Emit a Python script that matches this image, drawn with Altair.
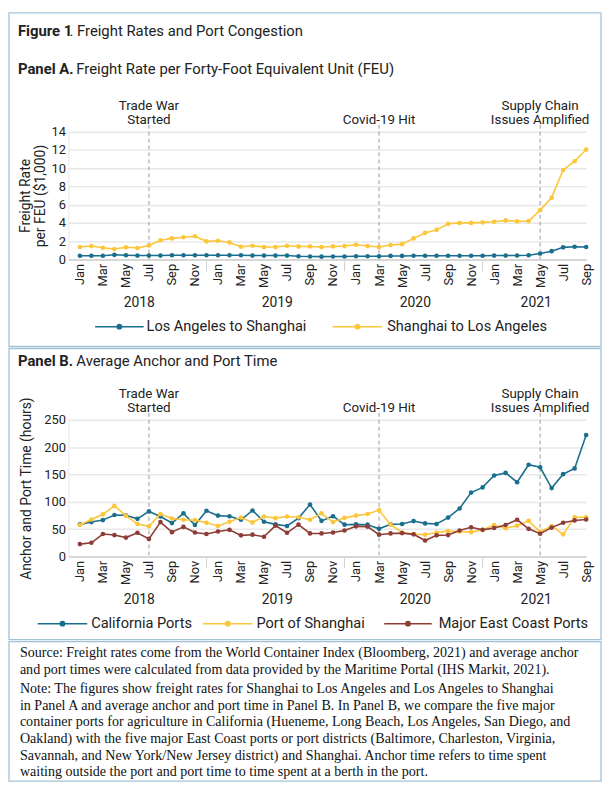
import altair as alt
import pandas as pd

MONTHS = ["Jan", "Feb", "Mar", "Apr", "May", "Jun", "Jul", "Aug", "Sep", "Oct", "Nov", "Dec"]
YEARS = ["2018", "2019", "2020", "2021"]
N = 45  # Jan 2018 .. Sep 2021

# Panel A: freight rate per FEU ($1,000)
LA_TO_SH = [0.40, 0.40, 0.40, 0.50, 0.45, 0.42, 0.42, 0.42, 0.45, 0.45, 0.45, 0.45,
            0.45, 0.45, 0.45, 0.42, 0.42, 0.42, 0.42, 0.35, 0.32, 0.30, 0.32, 0.32,
            0.34, 0.34, 0.35, 0.38, 0.38, 0.40, 0.40, 0.40, 0.40, 0.40, 0.40, 0.40,
            0.42, 0.42, 0.43, 0.45, 0.64, 0.90, 1.32, 1.39, 1.36]
SH_TO_LA = [1.36, 1.47, 1.27, 1.14, 1.33, 1.25, 1.53, 2.10, 2.30, 2.43, 2.54, 1.98,
            2.04, 1.86, 1.39, 1.50, 1.35, 1.35, 1.50, 1.42, 1.42, 1.35, 1.42, 1.46,
            1.60, 1.46, 1.35, 1.57, 1.67, 2.30, 2.90, 3.24, 3.90, 4.00, 4.00, 4.06,
            4.13, 4.27, 4.17, 4.20, 5.40, 6.77, 9.80, 10.76, 12.04]

# Panel B: average anchor and port time (hours)
CA_PORTS = [58.6, 62.8, 66.4, 75.8, 75.2, 68.7, 82.3, 72.9, 61.0, 78.8, 57.5, 83.5,
            74.6, 73.5, 67.0, 84.0, 63.4, 58.6, 55.7, 70.0, 94.8, 65.0, 73.5, 58.0,
            58.6, 58.0, 50.4, 58.6, 59.2, 64.6, 60.4, 59.2, 71.0, 87.7, 116.7, 126.2,
            148.0, 152.8, 135.7, 167.7, 163.0, 125.0, 150.5, 161.0, 222.0]
SH_PORT = [57.5, 67.5, 77.0, 92.4, 74.6, 59.2, 55.0, 77.6, 69.3, 67.0, 66.4, 61.6,
           55.7, 63.4, 71.0, 62.2, 72.9, 70.0, 72.9, 71.7, 67.0, 78.8, 62.8, 70.5,
           74.6, 77.6, 84.7, 58.0, 43.8, 40.9, 39.7, 43.8, 46.2, 45.6, 44.4, 48.6,
           57.5, 51.5, 56.3, 65.0, 45.0, 55.7, 40.3, 71.7, 71.7]
EAST_PORTS = [22.5, 24.9, 40.9, 39.0, 34.4, 43.2, 32.0, 62.8, 44.4, 54.0, 43.8, 40.9,
              45.6, 48.6, 38.5, 39.7, 36.0, 56.3, 43.2, 58.0, 42.0, 42.0, 43.8, 47.4,
              55.0, 54.5, 39.7, 42.0, 42.6, 40.3, 29.0, 38.5, 39.0, 47.4, 53.3, 48.6,
              52.0, 57.5, 67.0, 50.4, 41.5, 52.7, 61.6, 65.8, 67.5]

A_SERIES = ["Los Angeles to Shanghai", "Shanghai to Los Angeles"]
B_SERIES = ["California Ports", "Port of Shanghai", "Major East Coast Ports"]

EVENT_IDX = [6, 26, 40]
EVENT_LINE1 = ["Trade War", "", "Supply Chain"]
EVENT_LINE2 = ["Started", "Covid-19 Hit", "Issues Amplified"]

YEAR_SEP_IDX = [11, 23, 35]

SOURCE_LINES = [
    "Source: Freight rates come from the World Container Index (Bloomberg, 2021) and average anchor",
    "and port times were calculated from data provided by the Maritime Portal (IHS Markit, 2021).",
]
NOTE_LINES = [
    "Note: The figures show freight rates for Shanghai to Los Angeles and Los Angeles to Shanghai",
    "in Panel A and average anchor and port time in Panel B. In Panel B, we compare the five major",
    "container ports for agriculture in California (Hueneme, Long Beach, Los Angeles, San Diego, and",
    "Oakland) with the five major East Coast ports or port districts (Baltimore, Charleston, Virginia,",
    "Savannah, and New York/New Jersey district) and Shanghai. Anchor time refers to time spent",
    "waiting outside the port and port time to time spent at a berth in the port.",
]

# ---------------- styling ----------------
BLUE = "#1b6f8e"
YELLOW = "#fcc63a"
BROWN = "#8d3c36"
BORDER = "#a3c2d8"
TXT = "#222222"
SANS = "Roboto"
SERIF = "Liberation Serif"
W = 523
L = 60
R = 15

one = pd.DataFrame({"k": [0]})
XS = alt.Scale(domain=[-1, N - 1], nice=False, zero=False)
label_expr = "[" + ",".join("'%s'" % m for m in MONTHS) + "][datum.value % 12]"
XAXIS = alt.Axis(values=list(range(0, N, 2)), labelExpr=label_expr, labelAngle=270,
                 labelAlign="right", labelBaseline="middle", labelFontSize=13,
                 labelPadding=4, labelOverlap=False, labelFont=SANS, labelColor=TXT,
                 ticks=False, grid=False, domain=True, domainColor="#cfcfcf",
                 domainWidth=1.5)


def xenc(field="i"):
    return alt.X(field + ":Q", scale=XS, axis=XAXIS, title=None)


def txt(s, x, y, size=13.5, weight="normal", align="left", font=SANS, color=TXT):
    return alt.Chart(one).mark_text(text=s, font=font, fontSize=size, fontWeight=weight,
                                    align=align, baseline="middle", color=color).encode(
        x=alt.value(x), y=alt.value(y))


def frame(top, total):
    return alt.Chart(one).mark_rect(fillOpacity=0, stroke=BORDER, strokeWidth=1.3).encode(
        x=alt.value(-L), x2=alt.value(W + R), y=alt.value(-top), y2=alt.value(total - top))


def panel(series_vals, colors, ymax, ystep, ytitle, tpad, H, top, total,
          bold, rest, legend_items, extra_text=None):
    layers = [frame(top, total)]
    yaxis = alt.Axis(values=list(range(0, ymax + 1, ystep)), titlePadding=tpad,
                     titleFont=SANS, titleFontSize=14, titleFontWeight="normal",
                     titleColor=TXT, titleLineHeight=16, labelFont=SANS, labelFontSize=13,
                     labelColor=TXT, labelPadding=3, ticks=False, grid=True,
                     gridColor="#e8e8e8", gridWidth=1.5, domain=True,
                     domainColor="#e8e8e8", domainWidth=1)
    # event annotations
    ev = pd.DataFrame({"i": EVENT_IDX, "l1": EVENT_LINE1, "l2": EVENT_LINE2})
    ev["lab"] = [(a + "\n" + b) if a else b for a, b in zip(ev["l1"], ev["l2"])]
    ev["two"] = [1 if a else 0 for a in ev["l1"]]
    evb = alt.Chart(ev)
    layers.append(evb.mark_rule(strokeDash=[4, 3], color="#9a9a9a", strokeWidth=1).encode(
        x=xenc(), y=alt.value(-7), y2=alt.value(H)))
    for two, yy in ((1, -19), (0, -5)):
        layers.append(evb.transform_filter(alt.datum.two == two).mark_text(
            font=SANS, fontSize=13.5, color=TXT, baseline="bottom",
            lineBreak="\n", lineHeight=14).encode(
            x=xenc(), y=alt.value(yy), text="lab:N"))
    # series
    for vals, col in zip(series_vals, colors):
        df = pd.DataFrame({"i": list(range(len(vals))), "v": vals})
        base = alt.Chart(df).encode(
            x=xenc(),
            y=alt.Y("v:Q", scale=alt.Scale(domain=[0, ymax], nice=False), axis=yaxis,
                    title=ytitle))
        layers.append(base.mark_line(color=col, strokeWidth=1.6))
        layers.append(base.mark_point(color=col, filled=True, size=22, opacity=1))
    # year separators and labels
    sep = pd.DataFrame({"i": YEAR_SEP_IDX})
    layers.append(alt.Chart(sep).mark_rule(color="#cfcfcf", strokeWidth=1).encode(
        x=xenc(), y=alt.value(H + 2), y2=alt.value(H + 12)))
    centers = []
    for k, yr in enumerate(YEARS):
        idxs = [i for i in range(N) if i // 12 == k]
        centers.append(sum(idxs) / len(idxs))
    yrs = pd.DataFrame({"i": centers, "t": YEARS})
    layers.append(alt.Chart(yrs).mark_text(font=SANS, fontSize=14, color=TXT,
                                           baseline="middle", dx=-4).encode(
        x=xenc(), y=alt.value(H + 44), text="t:N"))
    # legend (manual)
    ly = H + 68
    for (x1, x2, xt, name, col) in legend_items:
        layers.append(alt.Chart(one).mark_rule(color=col, strokeWidth=1.6).encode(
            x=alt.value(x1 - L), x2=alt.value(x2 - L), y=alt.value(ly)))
        layers.append(alt.Chart(one).mark_point(color=col, filled=True, size=34, opacity=1).encode(
            x=alt.value((x1 + x2) / 2 - L), y=alt.value(ly)))
        layers.append(txt(name, xt - L, ly, size=14.7))
    # panel title
    if extra_text:
        for (s, x, y, wgt) in extra_text:
            layers.append(txt(s, x - L, y - top, size=15, weight=wgt))
    layers.append(txt(bold[0], bold[1] - L, bold[2] - top, size=15, weight="bold"))
    layers.append(txt(rest[0], rest[1] - L, rest[2] - top, size=15))
    return alt.layer(*layers).properties(width=W, height=H)


HA, TOPA, TOTA = 129, 120, 337
panelA = panel(
    [LA_TO_SH, SH_TO_LA], [BLUE, YELLOW], 14, 2, ["Freight Rate", "per FEU ($1,000)"], 3,
    HA, TOPA, TOTA,
    ("Panel A.", 9, 57), ("Freight Rate per Forty-Foot Equivalent Unit (FEU)", 68, 57),
    [(87, 136, 139, A_SERIES[0], BLUE), (327, 377, 382, A_SERIES[1], YELLOW)],
    extra_text=[("Figure 1", 9, 18, "bold"), (". Freight Rates and Port Congestion", 61, 18, "normal")],
)

HB, TOPB, TOTB = 138, 72, 294
panelB = panel(
    [CA_PORTS, SH_PORT, EAST_PORTS], [BLUE, YELLOW, BROWN], 250, 50,
    "Anchor and Port Time (hours)", 10,
    HB, TOPB, TOTB,
    ("Panel B.", 9, 13), ("Average Anchor and Port Time", 68, 13),
    [(29, 79, 83, B_SERIES[0], BLUE), (196, 246, 250, B_SERIES[1], YELLOW),
     (379, 427, 434, B_SERIES[2], BROWN)],
)

HS = 141
src_layers = [frame(0, HS)]
all_lines = SOURCE_LINES + NOTE_LINES
for i, line in enumerate(all_lines):
    y = 12 + 16.7 * i + (3 if i >= len(SOURCE_LINES) else 0)
    src_layers.append(txt(line, 11 - L, y, size=14.2, font=SERIF, color="#111111"))
source = alt.layer(*src_layers).properties(width=W, height=HS)

chart = alt.vconcat(panelA, panelB, source, spacing=0).configure_view(
    stroke=None).properties(padding=0)

chart.save("out.html", embed_options={"renderer": "svg", "actions": False})
